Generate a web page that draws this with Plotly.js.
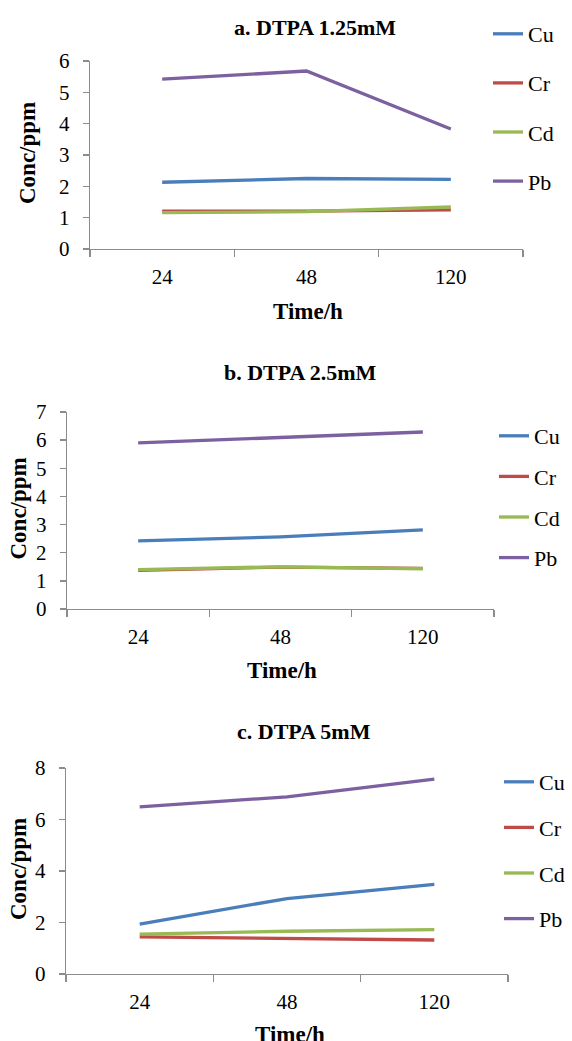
<!DOCTYPE html>
<html>
<head>
<meta charset="utf-8">
<script src="https://cdn.plot.ly/plotly-3.0.1.min.js"></script>
<style>
  html, body { margin: 0; padding: 0; background: #fff; }
  #chart { width: 572px; height: 1041px; }
</style>
</head>
<body>
<div id="chart"></div>
<script>
// Sampling times (h)
const hours = ['24', '48', '120'];
const metals = ['Cu', 'Cr', 'Cd', 'Pb'];

// a. DTPA 1.25 mM
const a_Cu = [2.13, 2.25, 2.22];
const a_Cr = [1.21, 1.21, 1.25];
const a_Cd = [1.16, 1.19, 1.34];
const a_Pb = [5.42, 5.68, 3.83];

// b. DTPA 2.5 mM
const b_Cu = [2.42, 2.56, 2.81];
const b_Cr = [1.37, 1.49, 1.44];
const b_Cd = [1.40, 1.50, 1.43];
const b_Pb = [5.90, 6.10, 6.29];

// c. DTPA 5 mM
const c_Cu = [1.94, 2.93, 3.48];
const c_Cr = [1.44, 1.39, 1.32];
const c_Cd = [1.55, 1.66, 1.72];
const c_Pb = [6.49, 6.88, 7.57];

const titles = ['a. DTPA 1.25mM', 'b. DTPA 2.5mM', 'c. DTPA 5mM'];
const yMax = [6, 7, 8];
const yStep = [1, 1, 2];

const colors = {Cu: '#4a7ebb', Cr: '#be4b48', Cd: '#98b954', Pb: '#7d60a0'};
const FONT = "'Liberation Serif', 'Times New Roman', Times, serif";
const W = 572, H = 1041;

const panels = [
  {series: {Cu: a_Cu, Cr: a_Cr, Cd: a_Cd, Pb: a_Pb}, left: 90, right: 523, top: 61, bottom: 249,
   titleX: 315, titleY: 27, xtX: 308, xtY: 312, ytX: 27, legX: 488, legY: 13, gap: 17.5},
  {series: {Cu: b_Cu, Cr: b_Cr, Cd: b_Cd, Pb: b_Pb}, left: 67, right: 494, top: 412, bottom: 609,
   titleX: 300, titleY: 372, xtX: 282, xtY: 670, ytX: 18, legX: 494, legY: 415, gap: 9},
  {series: {Cu: c_Cu, Cr: c_Cr, Cd: c_Cd, Pb: c_Pb}, left: 66, right: 508, top: 768, bottom: 974,
   titleX: 304, titleY: 731, xtX: 290, xtY: 1034, ytX: 18, legX: 499, legY: 761, gap: 14}
];

const traces = [];
const layout = {
  width: W, height: H,
  margin: {l: 0, r: 0, t: 0, b: 0},
  paper_bgcolor: '#fff', plot_bgcolor: '#fff',
  font: {family: FONT, size: 21, color: '#000'},
  annotations: [],
  showlegend: true
};

panels.forEach((p, i) => {
  const n = i === 0 ? '' : String(i + 1);
  const xa = 'xaxis' + n, ya = 'yaxis' + n, lg = 'legend' + n;

  metals.forEach(m => {
    traces.push({
      type: 'scatter', mode: 'lines',
      x: hours, y: p.series[m], name: m,
      xaxis: 'x' + n, yaxis: 'y' + n,
      legend: lg, legendgroup: m + n,
      line: {color: colors[m], width: 3.3},
      hoverinfo: 'skip'
    });
  });

  const axisCommon = {
    showline: true, linecolor: '#8c8c8c', linewidth: 1.3,
    ticks: 'outside', tickcolor: '#8c8c8c', tickwidth: 1.3,
    showgrid: false, zeroline: false, fixedrange: true,
    tickfont: {family: FONT, size: 21, color: '#000'}
  };

  layout[xa] = Object.assign({}, axisCommon, {
    type: 'category', range: [-0.5, 2.5],
    domain: [p.left / W, p.right / W],
    anchor: 'y' + n, tickson: 'boundaries', ticklen: 7,
    ticklabelstandoff: 8
  });
  layout[ya] = Object.assign({}, axisCommon, {
    range: [0, yMax[i]], dtick: yStep[i], tick0: 0,
    domain: [(H - p.bottom) / H, (H - p.top) / H],
    anchor: 'x' + n, ticklen: 6, ticklabelstandoff: 9
  });

  layout[lg] = {
    x: p.legX / W, y: 1 - p.legY / H, xanchor: 'left', yanchor: 'top',
    bgcolor: 'rgba(0,0,0,0)', borderwidth: 0,
    font: {family: FONT, size: 22, color: '#000'},
    tracegroupgap: p.gap, itemclick: false, itemdoubleclick: false
  };

  // chart title
  layout.annotations.push({
    text: '<b>' + titles[i] + '</b>', xref: 'paper', yref: 'paper',
    x: p.titleX / W, y: 1 - p.titleY / H, xanchor: 'center', yanchor: 'middle',
    showarrow: false, font: {family: FONT, size: 22, color: '#000'}
  });
  // x axis title
  layout.annotations.push({
    text: '<b>Time/h</b>', xref: 'paper', yref: 'paper',
    x: p.xtX / W, y: 1 - p.xtY / H, xanchor: 'center', yanchor: 'middle',
    showarrow: false, font: {family: FONT, size: 23, color: '#000'}
  });
  // y axis title
  layout.annotations.push({
    text: '<b>Conc/ppm</b>', xref: 'paper', yref: 'paper',
    x: p.ytX / W, y: 1 - ((p.top + p.bottom) / 2 - 2) / H, xanchor: 'center', yanchor: 'middle',
    textangle: -90, showarrow: false, font: {family: FONT, size: 23, color: '#000'}
  });
});

Plotly.newPlot('chart', traces, layout, {staticPlot: true, displayModeBar: false});
</script>
</body>
</html>
